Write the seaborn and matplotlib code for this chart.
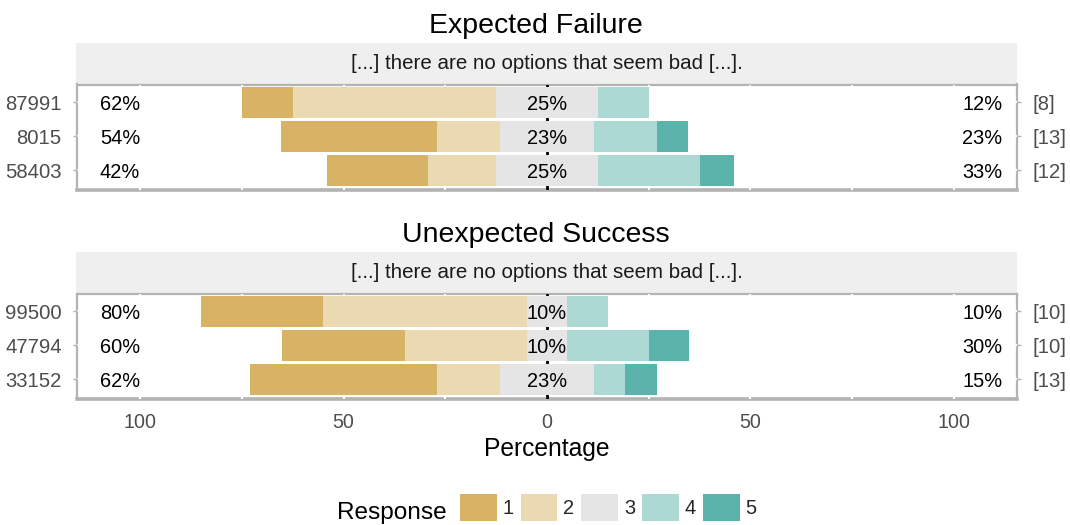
import pandas as pd
import matplotlib
matplotlib.use("Agg")
import matplotlib.pyplot as plt
import seaborn as sns
from matplotlib.patches import Patch
from matplotlib.ticker import FixedLocator

# Response counts per item, levels 1..5
fail_items = ["87991", "8015", "58403"]
fail_n = [8, 13, 12]
fail_r1 = [1, 5, 3]
fail_r2 = [4, 2, 2]
fail_r3 = [2, 3, 3]
fail_r4 = [1, 2, 3]
fail_r5 = [0, 1, 1]

succ_items = ["99500", "47794", "33152"]
succ_n = [10, 10, 13]
succ_r1 = [3, 3, 6]
succ_r2 = [5, 3, 2]
succ_r3 = [1, 1, 3]
succ_r4 = [1, 2, 1]
succ_r5 = [0, 1, 1]

panel_titles = ["Expected Failure", "Unexpected Success"]
strip_text = "[...] there are no options that seem bad [...]."
levels = ["1", "2", "3", "4", "5"]
colors = ["#D8B365", "#EBD9B2", "#E5E5E5", "#ADD9D5", "#5AB4AC"]
xticks = [-100, -50, 0, 50, 100]
xtick_labels = ["100", "50", "0", "50", "100"]

sns.set_style("white")
plt.rcParams['font.family'] = ['Liberation Sans', 'DejaVu Sans']

W, H = 1070, 525


def box(l, t, r, b):
    return [l / W, 1 - b / H, (r - l) / W, (b - t) / H]


def draw_panel(ax, items, n, r1, r2, r3, r4, r5, show_x):
    df = pd.DataFrame({"item": items, "n": n, "r1": r1, "r2": r2,
                       "r3": r3, "r4": r4, "r5": r5})
    for k in range(1, 6):
        df[f"p{k}"] = df[f"r{k}"] / df["n"] * 100
    half = df["p3"] / 2

    # overlapping zero-based bars, outermost first
    layers = [
        (-(df["p1"] + df["p2"] + half), colors[0]),
        (-(df["p2"] + half), colors[1]),
        (-half, colors[2]),
        (df["p4"] + df["p5"] + half, colors[4]),
        (df["p4"] + half, colors[3]),
        (half, colors[2]),
    ]
    for vals, col in layers:
        sns.barplot(x=vals.values, y=df["item"].values, orient="h", color=col,
                    saturation=1, width=0.9, linewidth=0, errorbar=None, ax=ax)

    for i, row in df.iterrows():
        low = round(row["p1"] + row["p2"])
        mid = round(row["p3"])
        high = round(row["p4"] + row["p5"])
        ax.text(-100, i, f"{low}%", ha="right", va="center_baseline", fontsize=14.4, color="black")
        ax.text(0, i, f"{mid}%", ha="center", va="center_baseline", fontsize=14.4, color="black")
        ax.text(102, i, f"{high}%", ha="left", va="center_baseline", fontsize=14.4, color="black")

    ax.axvline(0, color="black", lw=2, zorder=0.9)
    ax.set_xlim(-115.5, 115.5)
    ax.set_ylim(2.565, -0.52)
    ax.set_xlabel("")
    ax.set_ylabel("")
    ax.set_axisbelow(True)
    ax.set_xticks(xticks)
    ax.xaxis.set_minor_locator(FixedLocator([-75, -25, 25, 75]))
    ax.grid(which="both", axis="x", color="white", lw=1.5)
    ax.grid(which="major", axis="y", color="white", lw=1.5)
    ax.set_yticks(range(len(items)))
    ax.set_yticklabels(items)
    ax.tick_params(axis="y", length=3, width=1, color="#B3B3B3", pad=8,
                   labelsize=14.6, labelcolor="#4D4D4D")
    ax.tick_params(axis="x", which="both", length=0, pad=10.5,
                   labelsize=14.1, labelcolor="#4D4D4D", labelbottom=show_x)
    if show_x:
        ax.set_xticklabels(xtick_labels)
    for name, sp in ax.spines.items():
        sp.set_visible(True)
        sp.set_color("#B3B3B3")
        sp.set_linewidth(2.6 if name == "bottom" else 1.6)
        sp.set_zorder(0.3)

    tw = ax.twinx()
    tw.set_ylim(ax.get_ylim())
    tw.set_yticks(range(len(items)))
    tw.set_yticklabels([f"[{v}]" for v in n])
    tw.tick_params(axis="y", length=3, width=1, color="#B3B3B3", pad=8,
                   labelsize=14.6, labelcolor="#4D4D4D")
    for sp in tw.spines.values():
        sp.set_visible(False)


fig = plt.figure(figsize=(10.7, 5.25), dpi=100)

panels = [
    (fail_items, fail_n, fail_r1, fail_r2, fail_r3, fail_r4, fail_r5),
    (succ_items, succ_n, succ_r1, succ_r2, succ_r3, succ_r4, succ_r5),
]
offsets = [0, 209]

for k, (data, off) in enumerate(zip(panels, offsets)):
    fig.text(536 / W, 1 - (32.7 + off) / H, panel_titles[k], ha="center",
             va="baseline", fontsize=20.5, color="black")
    ax_s = fig.add_axes(box(76, 43 + off, 1017, 84.5 + off))
    ax_s.set_facecolor("#EFEFEF")
    ax_s.set_xticks([])
    ax_s.set_yticks([])
    for sp in ax_s.spines.values():
        sp.set_visible(False)
    ax_s.text(0.5, 0.5, strip_text, ha="center", va="center",
              fontsize=14.8, color="#1A1A1A", transform=ax_s.transAxes)

    ax = fig.add_axes(box(77, 84.5 + off, 1017, 189.5 + off))
    draw_panel(ax, *data, show_x=(k == 1))

fig.text(546.5 / W, 1 - 456 / H, "Percentage", ha="center", va="baseline",
         fontsize=17.7, color="black")

handles = [Patch(facecolor=c, edgecolor="none", label=l) for c, l in zip(colors, levels)]
fig.legend(handles=handles, loc="center left", bbox_to_anchor=(460 / W, 1 - 507.7 / H),
           ncol=5, frameon=False, fontsize=14.4, handlelength=1.83, handleheight=1.67,
           handletextpad=0.3, columnspacing=0.35, borderpad=0, borderaxespad=0)
fig.text(337 / W, 1 - 519.3 / H, "Response", ha="left", va="baseline",
         fontsize=17.6, color="black")

fig.savefig("out.png", dpi=100)
